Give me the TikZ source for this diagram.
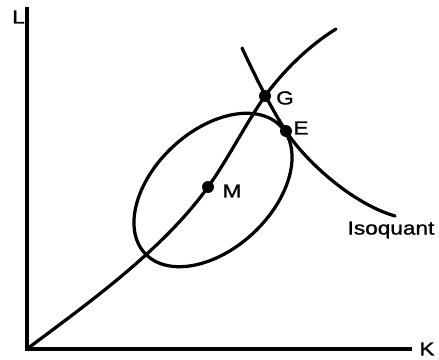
\documentclass[tikz,border=0pt]{standalone}
\usepackage{fontspec}
\setmainfont{Liberation Sans}[FakeStretch=1.2,FakeBold=1.2]
\begin{document}
\begin{tikzpicture}[x=0.25mm,y=-0.25mm,
  curve/.style={line width=2.3pt,line cap=round,line join=round},
  axis/.style={line width=2.3pt},
  lbl/.style={font=\fontsize{13.4}{14}\selectfont,inner sep=0pt},
  pt/.style={circle,fill=black,inner sep=0pt,minimum size=8.5pt}]
\useasboundingbox (0,0) rectangle (439,360);
% axes
\coordinate (O) at (27,349);
\coordinate (Ltop) at (27,7);
\coordinate (Kend) at (412,349);
\coordinate (Ptop) at (336,29);
\coordinate (Itop) at (242,48);
\coordinate (Iend) at (395,216);
\draw[axis] (Ltop) -- (O) -- (Kend);
\node[lbl] (L) at (18.5,17) {L};
\node[lbl] (K) at (427,349) {K};
% points
\node[pt] (M) at (208,187) {};
\node[pt] (G) at (265,96) {};
\node[pt] (E) at (286,131) {};
% expansion path
\draw[curve] (O) .. controls (87,304) and (163,250) .. (M.center)
  .. controls (228,159) and (245,125) .. (G.center)
  .. controls (290,62) and (318,40) .. (Ptop);
% ellipse
\draw[curve] (213,190) ellipse[x radius=23.25mm,y radius=14.75mm,rotate=43];
% isoquant
\draw[curve] (Itop) .. controls (257,80) and (272,110) .. (E.center)
  .. controls (303,158) and (350,203) .. (Iend);
\node[lbl] (Mlbl) at (232,191) {M};
\node[lbl] (Glbl) at (285,98) {G};
\node[lbl] (Elbl) at (301,128) {E};
\node[lbl] (Iso) at (391,230) {Isoquant};
\end{tikzpicture}
\end{document}
